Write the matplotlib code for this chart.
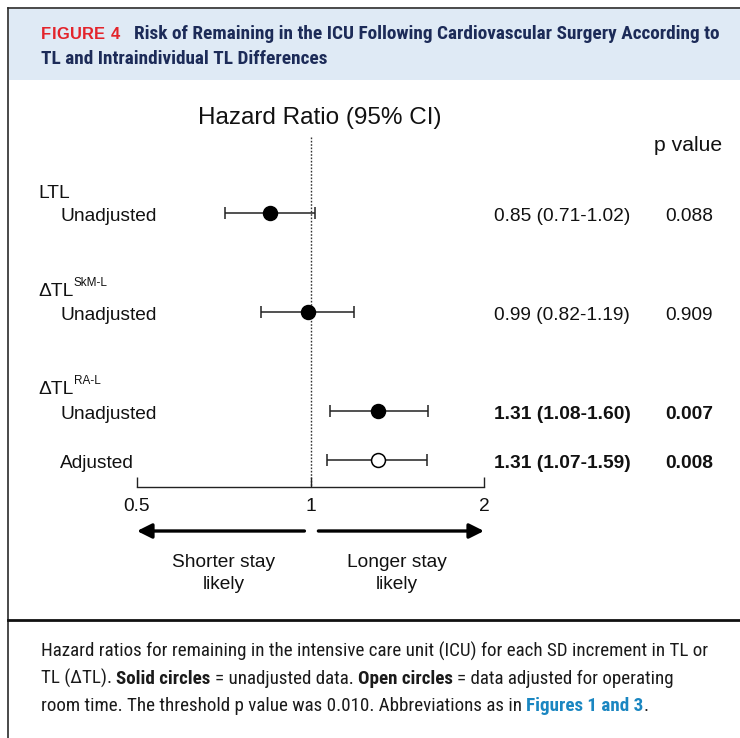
import matplotlib
matplotlib.use('Agg')
import matplotlib.pyplot as plt
import matplotlib.font_manager as fm
from matplotlib.patches import Rectangle
from matplotlib.lines import Line2D
from matplotlib.ticker import FixedLocator, FixedFormatter, NullLocator
from matplotlib.transforms import Affine2D, blended_transform_factory
import numpy as np

W, H = 740, 738

# ── data ──────────────────────────────────────────────────────────
group_labels = ['LTL', 'ΔTL', 'ΔTL']
group_sups = ['', 'SkM-L', 'RA-L']
row_labels = ['Unadjusted', 'Unadjusted', 'Unadjusted', 'Adjusted']
hr = [0.85, 0.99, 1.31, 1.31]
ci_low = [0.71, 0.82, 1.08, 1.07]
ci_high = [1.02, 1.19, 1.60, 1.59]
p_values = ['0.088', '0.909', '0.007', '0.008']
adjusted = [False, False, False, True]
significant = [False, False, True, True]
x_ticks = [0.5, 1, 2]
x_ticklabels = ['0.5', '1', '2']
direction_labels = [('Shorter stay', 'likely'), ('Longer stay', 'likely')]

title_tag = 'FIGURE 4'
title_lines = ['Risk of Remaining in the ICU Following Cardiovascular Surgery According to',
               'TL and Intraindividual TL Differences']
caption = [
    [('Hazard ratios for remaining in the intensive care unit (ICU) for each SD increment in TL or', 'n')],
    [('TL (ΔTL). ', 'n'), ('Solid circles', 'b'), (' = unadjusted data. ', 'n'),
     ('Open circles', 'b'), (' = data adjusted for operating', 'n')],
    [('room time. The threshold p value was 0.010. Abbreviations as in ', 'n'),
     ('Figures 1 and 3', 'link'), ('.', 'n')],
]

# layout (pixel rows, top-left origin)
row_y = [213, 312, 411, 460]
group_y = [198, 296, 394]

RED = '#e3242b'
NAVY = '#1c2b58'
HEADER_BG = '#dfeaf5'
LINK = '#1a86c1'
TXT = '#1a1a1a'


def condensed_font(bold):
    target = 700 if bold else 400
    prefs = ['Roboto Condensed', 'Open Sans Condensed', 'Noto Sans Condensed',
             'Liberation Sans Narrow', 'DejaVu Sans Condensed', 'DejaVu Sans']
    best = None
    for f in fm.fontManager.ttflist:
        if f.style != 'normal' or 'Serif' in f.name or 'Mono' in f.name or 'CJK' in f.name:
            continue
        narrow = ('Condensed' in f.name or 'Narrow' in f.name
                  or str(f.stretch) in ('condensed', 'semi-condensed'))
        if not narrow:
            continue
        w = f.weight if isinstance(f.weight, int) else fm.weight_dict.get(f.weight, 400)
        rank = prefs.index(f.name) if f.name in prefs else len(prefs)
        score = (abs(w - target), rank)
        if best is None or score < best[0]:
            best = (score, f)
    if best is None:
        return fm.FontProperties(family='Roboto', weight='bold' if bold else 'normal')
    return fm.FontProperties(fname=best[1].fname)


fig = plt.figure(figsize=(W / 100, H / 100), dpi=100)
fig.patch.set_facecolor('white')
renderer = fig.canvas.get_renderer()
pix = Affine2D().scale(1 / W, -1 / H).translate(0, 1) + fig.transFigure

cond_r = condensed_font(False)
cond_b = condensed_font(True)
wide_b = fm.FontProperties(family=['Liberation Sans', 'DejaVu Sans'], weight='bold')


def sized(fp, size):
    p = fp.copy()
    p.set_size(size)
    return p


def measure(s, fp, size):
    if not s:
        return 0.0
    return renderer.get_text_width_height_descent(s, sized(fp, size), ismath=False)[0]


def space_w(fp, size):
    return measure('x x', fp, size) - measure('xx', fp, size)


def line_width(parts, fonts, size):
    total = 0.0
    for s, kind in parts:
        fp = fonts[kind]
        core = s.strip(' ')
        total += measure(core, fp, size) + (len(s) - len(core)) * space_w(fp, size)
    return total


def draw_parts(x, y, parts, fonts, colors, size):
    for s, kind in parts:
        fp = fonts[kind]
        sw = space_w(fp, size)
        lead = len(s) - len(s.lstrip(' '))
        trail = len(s) - len(s.rstrip(' '))
        core = s.strip(' ')
        x += lead * sw
        fig.text(x, y, core, fontproperties=sized(fp, size), color=colors[kind],
                 transform=pix, va='baseline', ha='left')
        x += measure(core, fp, size) + trail * sw


def draw_tracked(x, y, s, fp, size, color, width):
    # letter-spaced run, stretched to a given total width
    adv = [measure(c, fp, size) if c != ' ' else space_w(fp, size) for c in s]
    gap = (width - sum(adv)) / max(len(s) - 1, 1)
    for c, a in zip(s, adv):
        if c != ' ':
            fig.text(x, y, c, fontproperties=sized(fp, size), color=color,
                     transform=pix, va='baseline', ha='left')
        x += a + gap


# ── frame & header ────────────────────────────────────────────────
fig.add_artist(Rectangle((9, 9), W - 9, 71, transform=pix, facecolor=HEADER_BG,
                         edgecolor='none', zorder=0))
fig.add_artist(Line2D([8, W], [8, 8], transform=pix, color='#2a2a2a', lw=1.2))
fig.add_artist(Line2D([8, 8], [8, H], transform=pix, color='#2a2a2a', lw=1.2))
fig.add_artist(Line2D([8, W], [620, 620], transform=pix, color='#111111', lw=2.0))

hfonts = {'b': cond_b}
hsize = 20 * 584 / line_width([(title_lines[0], 'b')], hfonts, 20)
draw_tracked(41, 39, title_tag, wide_b, hsize * 0.86, RED, 79)
draw_parts(134, 39, [(title_lines[0], 'b')], hfonts, {'b': NAVY}, hsize)
draw_parts(41, 64, [(title_lines[1], 'b')], hfonts, {'b': NAVY}, hsize)

# ── caption ───────────────────────────────────────────────────────
cfonts = {'n': cond_r, 'b': cond_b, 'link': cond_b}
ccolors = {'n': TXT, 'b': TXT, 'link': LINK}
csize = 20 * 666 / line_width(caption[0], cfonts, 20)
for i, parts in enumerate(caption):
    draw_parts(41, 657 + 27 * i, parts, cfonts, ccolors, csize)

# ── forest plot ───────────────────────────────────────────────────
plt.rcParams['font.family'] = ['Liberation Sans', 'DejaVu Sans']
FS = 13.8

ax = fig.add_axes([137 / W, 1 - 620 / H, (484 - 137) / W, (620 - 90) / H])
ax.set_facecolor('none')
ax.set_xscale('log', base=2)
ax.set_xlim(0.5, 2)
ax.set_ylim(620, 90)
for side in ['top', 'left', 'right']:
    ax.spines[side].set_visible(False)
ax.spines['bottom'].set_position(('data', 487))
ax.spines['bottom'].set_linewidth(1.0)
ax.spines['bottom'].set_color('#222222')
ax.xaxis.set_major_locator(FixedLocator(x_ticks))
ax.xaxis.set_major_formatter(FixedFormatter(x_ticklabels))
ax.xaxis.set_minor_locator(NullLocator())
ax.tick_params(axis='x', direction='in', length=7, width=1.0, color='#222222',
               labelsize=FS, pad=8, labelcolor='#111111')
ax.set_yticks([])

ax.vlines(1, 137, 487, colors='#333333', linestyles=(0, (1.2, 1.2)), lw=1.0, zorder=1)

for i in range(len(hr)):
    ax.errorbar(hr[i], row_y[i], xerr=[[hr[i] - ci_low[i]], [ci_high[i] - hr[i]]],
                fmt='o', ms=10, mfc='white' if adjusted[i] else 'black', mec='black',
                mew=1.1, ecolor='#222222', elinewidth=1.1, capsize=4.5, capthick=1.1,
                zorder=3, clip_on=False)

tx = blended_transform_factory(pix, ax.transData)
ax.text(320, 124, 'Hazard Ratio (95% CI)', transform=tx, ha='center', va='baseline',
        fontsize=17.5, color='#111111')
ax.text(688, 151, 'p value', transform=tx, ha='center', va='baseline',
        fontsize=15.2, color='#111111')

for g, (lab, sup) in enumerate(zip(group_labels, group_sups)):
    ax.text(38, group_y[g], lab, transform=tx, ha='left', va='baseline',
            fontsize=FS, color='#111111')
    if sup:
        wlab = measure(lab, fm.FontProperties(family='Liberation Sans'), FS)
        ax.text(38 + wlab + 0.5, group_y[g] - 10, sup, transform=tx, ha='left',
                va='baseline', fontsize=8.5, color='#111111')

for i in range(len(hr)):
    weight = 'bold' if significant[i] else 'normal'
    ax.text(60, row_y[i] + 8, row_labels[i], transform=tx, ha='left', va='baseline',
            fontsize=FS, color='#111111')
    ax.text(494, row_y[i] + 8, f'{hr[i]:.2f} ({ci_low[i]:.2f}-{ci_high[i]:.2f})',
            transform=tx, ha='left', va='baseline', fontsize=FS, fontweight=weight,
            color='#111111')
    ax.text(689, row_y[i] + 8, p_values[i], transform=tx, ha='center', va='baseline',
            fontsize=FS, fontweight=weight, color='#111111')

# direction arrows
arrow_y = 531
arrow = dict(arrowstyle='-|>', lw=2.4, color='black', mutation_scale=22,
             shrinkA=0, shrinkB=0)
ax.annotate('', xy=(0.5, arrow_y), xytext=(0.976, arrow_y), arrowprops=arrow,
            annotation_clip=False)
ax.annotate('', xy=(2, arrow_y), xytext=(1.032, arrow_y), arrowprops=arrow,
            annotation_clip=False)
for xc, (l1, l2) in zip([np.sqrt(0.5), np.sqrt(2)], direction_labels):
    ax.text(xc, 567, l1, ha='center', va='baseline', fontsize=FS, color='#111111')
    ax.text(xc, 589, l2, ha='center', va='baseline', fontsize=FS, color='#111111')

fig.savefig('out.png', dpi=100, facecolor='white')
